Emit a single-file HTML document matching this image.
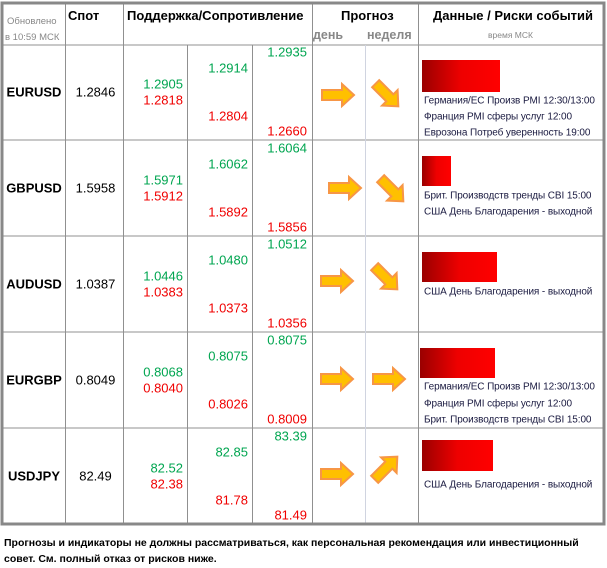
<!DOCTYPE html>
<html><head><meta charset="utf-8"><style>
body{margin:0;width:607px;height:568px;background:#fff;font-family:"Liberation Sans",sans-serif;position:relative;overflow:hidden}
.a{position:absolute;white-space:nowrap}
.n{position:absolute;font-size:13px;transform:translateY(-50%);text-align:right}
.g{color:#00a550}.r{color:#f00000}
.e{position:absolute;left:424px;font-size:10px;letter-spacing:-0.1px;color:#1a1a40;transform:translateY(-50%);white-space:nowrap}
.bar{position:absolute;background:linear-gradient(90deg,#9a0000,#ee0000 50%,#ff0000)}
.lbl{position:absolute;left:3px;width:62px;text-align:center;font-weight:bold;font-size:13px;transform:translateY(-50%)}
.sp{position:absolute;left:67px;width:57px;text-align:center;font-size:13px;transform:translateY(-50%)}
.h{position:absolute;font-weight:bold;font-size:13px}
</style></head><body>
<svg class="a" style="left:0;top:0" width="607" height="568">
<g stroke="#909090" stroke-width="1" fill="none">
<line x1="2" y1="45" x2="604" y2="45"/>
<line x1="2" y1="140" x2="604" y2="140"/>
<line x1="2" y1="236" x2="604" y2="236"/>
<line x1="2" y1="332" x2="604" y2="332"/>
<line x1="2" y1="428" x2="604" y2="428"/>
<line x1="65.5" y1="3" x2="65.5" y2="524"/>
<line x1="123.5" y1="3" x2="123.5" y2="524"/>
<line x1="187.5" y1="45" x2="187.5" y2="524"/>
<line x1="252.5" y1="45" x2="252.5" y2="524"/>
<line x1="312.5" y1="3" x2="312.5" y2="524"/>
<line x1="418.5" y1="3" x2="418.5" y2="524"/>
</g>
<line x1="365.5" y1="45" x2="365.5" y2="524" stroke="#d0d4e0"/>
<rect x="2" y="3" width="602" height="521" fill="none" stroke="#888" stroke-width="3"/>
<defs>
<path id="ar" d="M-16,-5 L4,-5 L4,-11 L16,0 L4,11 L4,5 L-16,5 Z" fill="#ffc000" stroke="#f79646" stroke-width="2"/>
</defs>
<use href="#ar" transform="translate(338,95)"/>
<use href="#ar" transform="translate(387,95) rotate(45)"/>
<use href="#ar" transform="translate(345,188)"/>
<use href="#ar" transform="translate(392,190) rotate(45)"/>
<use href="#ar" transform="translate(337,281)"/>
<use href="#ar" transform="translate(386,278) rotate(45)"/>
<use href="#ar" transform="translate(337,379)"/>
<use href="#ar" transform="translate(389,379)"/>
<use href="#ar" transform="translate(337,474)"/>
<use href="#ar" transform="translate(386,468) rotate(-45)"/>
</svg>

<div class="a" style="left:7px;top:16px;font-size:9.5px;color:#888">Обновлено</div>
<div class="a" style="left:5px;top:32px;font-size:9.5px;color:#888">в 10:59 МСК</div>
<div class="h" style="left:68px;top:8px">Спот</div>
<div class="h" style="left:127px;top:8px">Поддержка/Сопротивление</div>
<div class="h" style="left:341px;top:8px">Прогноз</div>
<div class="h" style="left:313px;top:28px;color:#888;font-size:12.5px">день</div>
<div class="h" style="left:367px;top:28px;color:#888;font-size:12.5px">неделя</div>
<div class="h" style="left:433px;top:8px">Данные / Риски событий</div>
<div class="a" style="left:488px;top:30px;font-size:8.5px;color:#888">время МСК</div>

<div class="lbl" style="top:92px">EURUSD</div><div class="sp" style="top:92px">1.2846</div>
<div class="n g" style="right:424px;top:84px">1.2905</div><div class="n r" style="right:424px;top:100px">1.2818</div>
<div class="n g" style="right:359px;top:68px">1.2914</div><div class="n r" style="right:359px;top:116px">1.2804</div>
<div class="n g" style="right:300px;top:52px">1.2935</div><div class="n r" style="right:300px;top:131px">1.2660</div>
<div class="bar" style="left:422px;top:60px;width:78px;height:32px"></div>
<div class="e" style="top:101px">Германия/ЕС Произв PMI 12:30/13:00</div>
<div class="e" style="top:117px">Франция PMI сферы услуг 12:00</div>
<div class="e" style="top:133px">Еврозона Потреб уверенность 19:00</div>

<div class="lbl" style="top:188px">GBPUSD</div><div class="sp" style="top:188px">1.5958</div>
<div class="n g" style="right:424px;top:180px">1.5971</div><div class="n r" style="right:424px;top:196px">1.5912</div>
<div class="n g" style="right:359px;top:164px">1.6062</div><div class="n r" style="right:359px;top:212px">1.5892</div>
<div class="n g" style="right:300px;top:148px">1.6064</div><div class="n r" style="right:300px;top:227px">1.5856</div>
<div class="bar" style="left:422px;top:156px;width:29px;height:30px"></div>
<div class="e" style="top:196px">Брит. Производств тренды CBI 15:00</div>
<div class="e" style="top:212px">США День Благодарения - выходной</div>

<div class="lbl" style="top:284px">AUDUSD</div><div class="sp" style="top:284px">1.0387</div>
<div class="n g" style="right:424px;top:276px">1.0446</div><div class="n r" style="right:424px;top:292px">1.0383</div>
<div class="n g" style="right:359px;top:260px">1.0480</div><div class="n r" style="right:359px;top:308px">1.0373</div>
<div class="n g" style="right:300px;top:244px">1.0512</div><div class="n r" style="right:300px;top:323px">1.0356</div>
<div class="bar" style="left:422px;top:252px;width:75px;height:30px"></div>
<div class="e" style="top:292px">США День Благодарения - выходной</div>

<div class="lbl" style="top:380px">EURGBP</div><div class="sp" style="top:380px">0.8049</div>
<div class="n g" style="right:424px;top:372px">0.8068</div><div class="n r" style="right:424px;top:388px">0.8040</div>
<div class="n g" style="right:359px;top:356px">0.8075</div><div class="n r" style="right:359px;top:404px">0.8026</div>
<div class="n g" style="right:300px;top:340px">0.8075</div><div class="n r" style="right:300px;top:419px">0.8009</div>
<div class="bar" style="left:420px;top:348px;width:75px;height:30px"></div>
<div class="e" style="top:387px">Германия/ЕС Произв PMI 12:30/13:00</div>
<div class="e" style="top:404px">Франция PMI сферы услуг 12:00</div>
<div class="e" style="top:420px">Брит. Производств тренды CBI 15:00</div>

<div class="lbl" style="top:476px">USDJPY</div><div class="sp" style="top:476px">82.49</div>
<div class="n g" style="right:424px;top:468px">82.52</div><div class="n r" style="right:424px;top:484px">82.38</div>
<div class="n g" style="right:359px;top:452px">82.85</div><div class="n r" style="right:359px;top:500px">81.78</div>
<div class="n g" style="right:300px;top:436px">83.39</div><div class="n r" style="right:300px;top:515px">81.49</div>
<div class="bar" style="left:422px;top:440px;width:71px;height:31px"></div>
<div class="e" style="top:485px">США День Благодарения - выходной</div>

<div class="a" style="left:4px;top:535px;font-size:10.5px;font-weight:bold;line-height:16px">Прогнозы и индикаторы не должны рассматриваться, как персональная рекомендация или инвестиционный<br>совет. См. полный отказ от рисков ниже.</div>
</body></html>
